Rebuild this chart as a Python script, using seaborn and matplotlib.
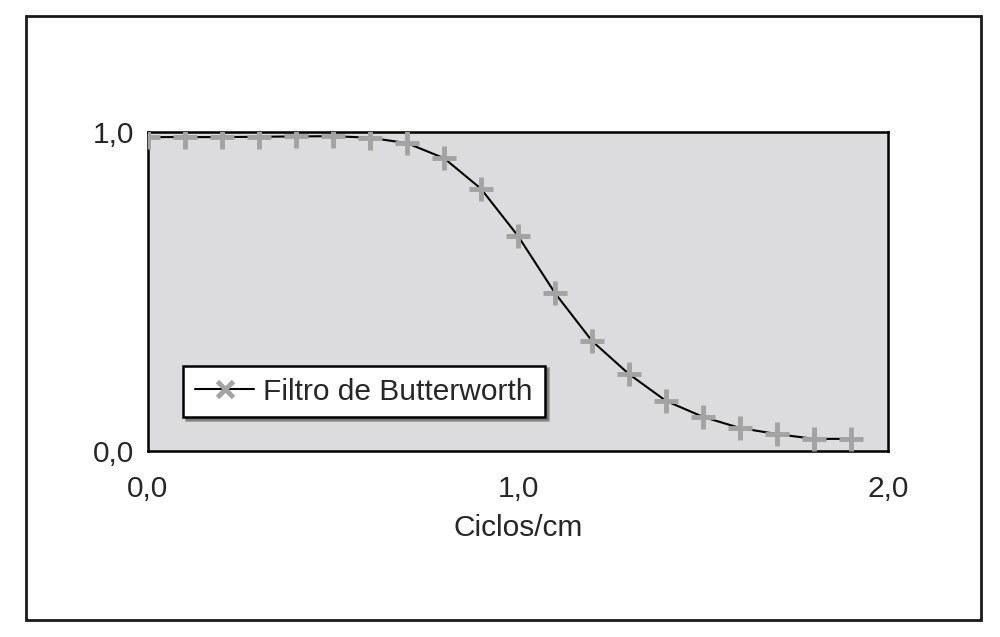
import numpy as np
import pandas as pd
import seaborn as sns
import matplotlib.pyplot as plt
from matplotlib.lines import Line2D
from matplotlib.patches import Rectangle

freq = [0.0, 0.1, 0.2, 0.3, 0.4, 0.5, 0.6, 0.7, 0.8, 0.9,
        1.0, 1.1, 1.2, 1.3, 1.4, 1.5, 1.6, 1.7, 1.8, 1.9]
resp = [0.984, 0.984, 0.984, 0.985, 0.986, 0.987, 0.982, 0.965, 0.918, 0.822,
        0.674, 0.495, 0.345, 0.241, 0.157, 0.107, 0.072, 0.053, 0.038, 0.038]
serie = "Filtro de Butterworth"
xtick_pos = [0.0, 0.5, 1.0, 1.5, 2.0]
xtick_lab = ["0,0", "", "1,0", "", "2,0"]
ytick_pos = [0.0, 0.5, 1.0]
ytick_lab = ["0,0", "", "1,0"]

df = pd.DataFrame({"freq": freq, "resp": resp})

sns.set_style("white")
plt.rcParams['font.family'] = ['Liberation Sans', 'DejaVu Sans']

fig = plt.figure(figsize=(10, 6.37), dpi=100)
ax = fig.add_axes([0.148, 0.292, 0.74, 0.5008])
ax.set_facecolor("#dcdcde")

sns.lineplot(
    data=df, x="freq", y="resp",
    color="black", linewidth=1.5,
    ax=ax, legend=False
)
sns.scatterplot(
    data=df, x="freq", y="resp",
    marker="+", s=300, linewidth=3.5,
    color="#a3a3a3", ax=ax, legend=False, zorder=3
)

ax.set_xlim(0, 2)
ax.set_ylim(0, 1)
ax.set_xticks(xtick_pos)
ax.set_xticklabels(xtick_lab)
ax.set_yticks(ytick_pos)
ax.set_yticklabels(ytick_lab)
ax.tick_params(axis="x", direction="out", length=6, width=1.8,
               pad=11, labelsize=21.5, color="black")
ax.tick_params(axis="y", direction="out", length=6, width=1.8,
               pad=4, labelsize=21.5, color="black")
ax.set_xlabel("Ciclos/cm", fontsize=21.5, labelpad=8)
ax.set_ylabel("")
for sp in ax.spines.values():
    sp.set_color("black")
    sp.set_linewidth(1.8)
    sp.set_visible(True)

handle = Line2D([], [], color="black", linewidth=1.5, marker="x",
                markersize=12, markeredgewidth=3.5, markeredgecolor="#a3a3a3")
leg = ax.legend([handle], [serie], loc="lower left",
                bbox_to_anchor=(0.047, 0.105), borderaxespad=0,
                fontsize=21.5, frameon=True, fancybox=False, shadow=True,
                handlelength=2.0, handletextpad=0.3, borderpad=0.4)
leg.get_frame().set_edgecolor("black")
leg.get_frame().set_linewidth(1.8)
leg.get_frame().set_facecolor("white")
leg.get_frame().set_alpha(1)

fig.patches.append(Rectangle((0.026, 0.0267), 0.955, 0.948,
                             transform=fig.transFigure, fill=False,
                             edgecolor="#1a1a1a", linewidth=2))

plt.savefig("out.png", dpi=100)
